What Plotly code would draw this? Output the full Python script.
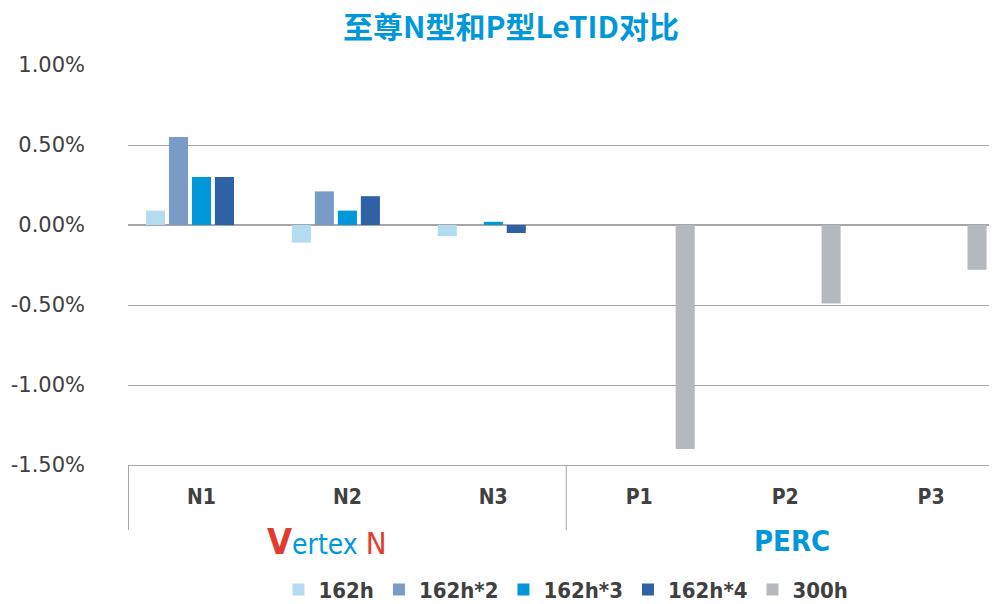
import plotly.graph_objects as go

# 样品 / samples
categories = ["N1", "N2", "N3", "P1", "P2", "P3"]

# LeTID 变化 (%)
s_162h = [0.09, -0.11, -0.07, None, None, None]
s_162h_2 = [0.55, 0.21, None, None, None, None]
s_162h_3 = [0.30, 0.09, 0.02, None, None, None]
s_162h_4 = [0.30, 0.18, -0.05, None, None, None]
s_300h = [None, None, None, -1.40, -0.49, -0.28]

# y 轴刻度
y_ticks = [0.01, 0.005, 0.0, -0.005, -0.01, -0.015]
y_tick_labels = ["1.00%", "0.50%", "0.00%", "-0.50%", "-1.00%", "-1.50%"]

series = [
    ("162h", s_162h, "#B4DCF0"),
    ("162h*2", s_162h_2, "#799CC6"),
    ("162h*3", s_162h_3, "#0098DA"),
    ("162h*4", s_162h_4, "#2E62A4"),
    ("300h", s_300h, "#B5B8BD"),
]

fig = go.Figure()
for name, vals, color in series:
    fig.add_trace(go.Bar(
        x=categories,
        y=[v / 100 if v is not None else None for v in vals],
        name=name,
        marker=dict(color=color, line=dict(width=0)),
    ))

# 页面 body 有 8px 外边距; 绘图区右侧略超出画面
fig.update_layout(
    width=996, height=596,
    margin=dict(l=120, r=0, t=57, b=139, autoexpand=False),
    paper_bgcolor="white",
    plot_bgcolor="white",
    barmode="group",
    bargap=0.212,
    bargroupgap=0.17,
    title=dict(
        text="<b>至尊N型和P型LeTID对比</b>",
        x=0.505, xanchor="center",
        yref="container", y=0.967, yanchor="middle",
        font=dict(family="Noto Sans CJK SC", size=30, color="#0098DA"),
    ),
    font=dict(family="DejaVu Sans", color="#404040"),
    legend=dict(
        orientation="h",
        x=0.5, xanchor="center",
        yref="container", y=0.024, yanchor="middle",
        font=dict(family="DejaVu Sans Condensed", size=22, color="#404040", weight="bold"),
        itemwidth=30,
        traceorder="normal",
    ),
    showlegend=True,
)

fig.update_yaxes(
    range=[-0.015, 0.010],
    tickvals=y_ticks,
    ticktext=y_tick_labels,
    showgrid=True, gridcolor="#A6A6A6", gridwidth=1,
    zeroline=True, zerolinecolor="#A6A6A6", zerolinewidth=1.5,
    showline=False,
    ticks="",
    tickfont=dict(family="DejaVu Sans", size=21, color="#404040"),
    ticklabelstandoff=42,
    automargin=False,
)

fig.update_xaxes(
    showline=True, linecolor="#A6A6A6", linewidth=1,
    ticks="",
    tickfont=dict(family="DejaVu Sans Condensed", size=21, color="#404040", weight="bold"),
    ticklabelstandoff=13,
    automargin=False,
)

# 分组分隔线
for xpos in [-0.5, 2.5]:
    fig.add_shape(type="line", xref="x", yref="paper",
                  x0=xpos, x1=xpos, y0=0, y1=-0.1625,
                  line=dict(color="#A6A6A6", width=1))

# 分组标签
fig.add_annotation(
    x=0.86, y=-0.19, xref="x", yref="paper", showarrow=False,
    xanchor="center", yanchor="middle",
    text="<span style='color:#E23A2E;font-size:36px'><b>V</b></span>"
         "<span style='color:#0098DA'>ertex </span>"
         "<span style='color:#E23A2E;font-size:31px'>N</span>",
    font=dict(family="DejaVu Sans Condensed", size=28),
)
fig.add_annotation(
    x=4.05, y=-0.19, xref="x", yref="paper", showarrow=False,
    xanchor="center", yanchor="middle",
    text="<b>PERC</b>",
    font=dict(family="DejaVu Sans Condensed", size=29, color="#0098DA"),
)

fig.write_html("out.html")
